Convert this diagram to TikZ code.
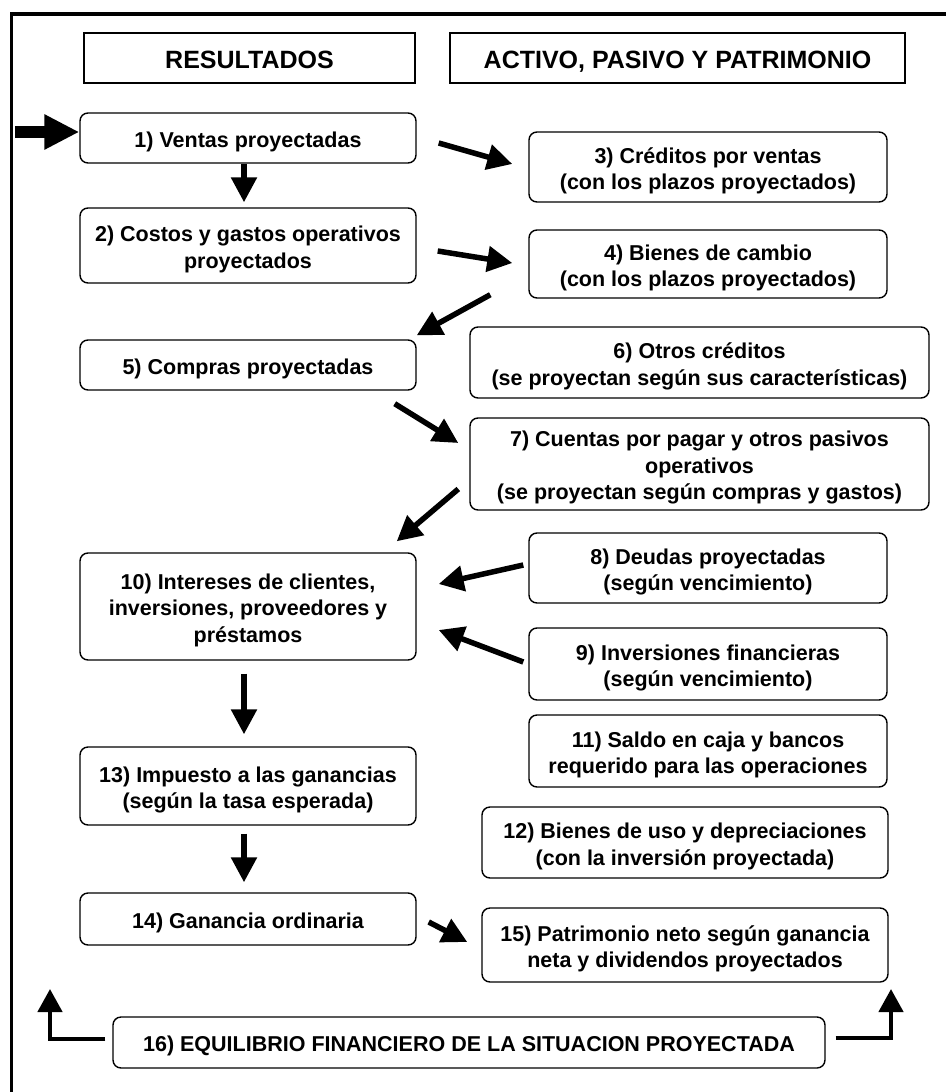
\documentclass[tikz,border=0pt]{standalone}
\usepackage{fontspec}
\setmainfont{Liberation Sans}
\usetikzlibrary{arrows.meta,calc}
\newcommand\boxtxt[1]{\raisebox{-4pt}[\height][\depth]{\begin{tabular}{@{}c@{}}#1\end{tabular}}}
\begin{document}
\begin{tikzpicture}[x=1pt,y=-1pt,
  box/.style={draw,line width=1.4pt,rounded corners=8pt,inner sep=0pt,
    font=\fontsize{21.5}{26.5}\selectfont\bfseries},
  hbox/.style={draw,line width=1.5pt,inner sep=0pt,
    font=\fontsize{25}{30}\selectfont\bfseries},
  arr/.style={line width=5.5pt,-{Triangle[length=25pt,width=25pt]}},
  bigarr/.style={line width=12pt,-{Triangle[length=35pt,width=33pt]}},
  elbow/.style={line width=4.5pt,-{Triangle[length=23pt,width=24pt]}},
]
\useasboundingbox (0,0) rectangle (946,1092);
% outer frame
\draw[line width=3.3pt] (11.7,1092) -- (11.7,14) -- (946,14);
% headers
\node[hbox,minimum width=331pt,minimum height=50pt] (hL) at (249.5,58) {\boxtxt{RESULTADOS}};
\node[hbox,minimum width=455pt,minimum height=50pt] (hR) at (677.5,58) {\boxtxt{ACTIVO, PASIVO Y PATRIMONIO}};
% left column
\node[box,minimum width=336pt,minimum height=50pt] (b1) at (248,138) {\boxtxt{1) Ventas proyectadas}};
\node[box,minimum width=336pt,minimum height=75pt] (b2) at (248,245.5) {\boxtxt{2) Costos y gastos operativos\\proyectados}};
\node[box,minimum width=336pt,minimum height=50pt] (b5) at (248,365) {\boxtxt{5) Compras proyectadas}};
\node[box,minimum width=336pt,minimum height=107pt] (b10) at (248,606.5) {\boxtxt{10) Intereses de clientes,\\inversiones, proveedores y\\préstamos}};
\node[box,minimum width=336pt,minimum height=78pt] (b13) at (248,786) {\boxtxt{13) Impuesto a las ganancias\\(según la tasa esperada)}};
\node[box,minimum width=336pt,minimum height=52pt] (b14) at (248,919) {\boxtxt{14) Ganancia ordinaria}};
% right column
\node[box,minimum width=358pt,minimum height=70pt] (b3) at (708,167) {\boxtxt{3) Créditos por ventas\\(con los plazos proyectados)}};
\node[box,minimum width=358pt,minimum height=68pt] (b4) at (708,264) {\boxtxt{4) Bienes de cambio\\(con los plazos proyectados)}};
\node[box,minimum width=459pt,minimum height=71pt] (b6) at (699.5,362.5) {\boxtxt{6) Otros créditos\\(se proyectan según sus características)}};
\node[box,minimum width=459pt,minimum height=92pt] (b7) at (699.5,464) {\boxtxt{7) Cuentas por pagar y otros pasivos\\operativos\\(se proyectan según compras y gastos)}};
\node[box,minimum width=358pt,minimum height=70pt] (b8) at (708,568) {\boxtxt{8) Deudas proyectadas\\(según vencimiento)}};
\node[box,minimum width=358pt,minimum height=72pt] (b9) at (708,664) {\boxtxt{9) Inversiones financieras\\(según vencimiento)}};
\node[box,minimum width=358pt,minimum height=72pt] (b11) at (708,751) {\boxtxt{11) Saldo en caja y bancos\\requerido para las operaciones}};
\node[box,minimum width=406pt,minimum height=71pt] (b12) at (685,842.5) {\boxtxt{12) Bienes de uso y depreciaciones\\(con la inversión proyectada)}};
\node[box,minimum width=406pt,minimum height=74pt] (b15) at (685,945) {\boxtxt{15) Patrimonio neto según ganancia\\neta y dividendos proyectados}};
% bottom
\node[box,minimum width=712pt,minimum height=51pt] (b16) at (469,1042.5) {\boxtxt{16) EQUILIBRIO FINANCIERO DE LA SITUACION PROYECTADA}};
% entry arrow
\coordinate (in) at (15,132);
\draw[bigarr] (in) -- ($(b1.west)+(0,-6)$);
% arrows
\draw[arr] ($(b1.east)+(22,5)$) -- ($(b3.west)+(-16,-3)$);
\draw[arr] ($(b2.east)+(21,5.5)$) -- ($(b4.west)+(-16,-1)$);
\draw[arr] ($(b4.south west)+(-38,-4)$) -- ($(b5.north east)+(0,-4)$);
\draw[arr] ($(b5.south east)+(-22,13)$) -- ($(b7.west)+(-11,-21)$);
\draw[arr] ($(b7.west)+(-11,25)$) -- ($(b10.north east)+(-20,-11)$);
\draw[arr] ($(b8.west)+(-5,-3)$) -- ($(b10.east)+(22,-22.5)$);
\draw[arr] ($(b9.west)+(-5,-2)$) -- ($(b10.east)+(22,23.5)$);
\draw[arr] ($(b1.south)+(-4,0)$) -- ($(b2.north)+(-4,-5)$);
\draw[arr] ($(b10.south)+(-4,13)$) -- ($(b13.north)+(-4,-12)$);
\draw[arr] ($(b13.south)+(-4,8)$) -- ($(b14.north)+(-4,-10)$);
\draw[arr] ($(b14.east)+(12,3)$) -- ($(b15.west)+(-14,-3)$);
% feedback elbows
\draw[elbow] ($(b16.west)+(-7,-3.5)$) -| (50,989);
\draw[elbow] ($(b16.east)+(10,-4.5)$) -| (891,989);
\end{tikzpicture}
\end{document}
